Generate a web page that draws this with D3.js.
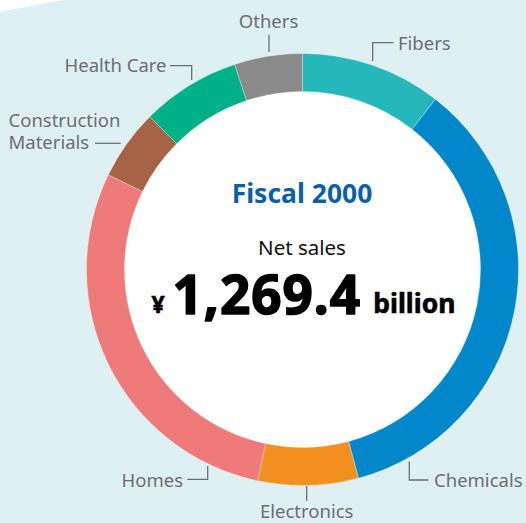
<!DOCTYPE html>
<html>
<head>
<meta charset="utf-8">
<script src="https://cdn.jsdelivr.net/npm/d3@7"></script>
<style>
  html, body { margin: 0; padding: 0; background: #ffffff; }
  svg { display: block; }
  text { font-family: "Noto Sans", "Open Sans", sans-serif; }
</style>
</head>
<body>
<svg id="chart" width="526" height="523"></svg>
<script>
// Net sales by segment, fiscal 2000 (billion yen), clockwise from 12 o'clock
const segments = ["Fibers", "Chemicals", "Electronics", "Homes", "Construction Materials", "Health Care", "Others"];
const sales = [134.0, 447.8, 95.2, 366.7, 67.0, 94.1, 64.6];
const colors = ["#26b7bb", "#0288ca", "#f29021", "#ef7a7a", "#a66345", "#00b087", "#8a8a8a"];

const title = "Fiscal 2000";
const subtitle = "Net sales";
const currency = "¥";
const totalLabel = "1,269.4";
const unit = "billion";

const W = 526, H = 523;
const cx = 302.5, cy = 269.5;
const outerR = 216, innerR = 178;

const svg = d3.select("#chart");

// panel background with the folded white corner
svg.append("rect").attr("width", W).attr("height", H).attr("fill", "#dff0f3");
svg.append("path").attr("d", "M0,0 L63,0 L0,11.7 Z").attr("fill", "#ffffff");

const g = svg.append("g").attr("transform", `translate(${cx},${cy})`);

const pie = d3.pie().sort(null).value(d => d.value);
const arcs = pie(segments.map((name, i) => ({ name, value: sales[i], color: colors[i] })));
const arc = d3.arc().innerRadius(innerR).outerRadius(outerR);

g.append("circle").attr("r", innerR).attr("fill", "#ffffff");

g.selectAll("path.seg")
  .data(arcs)
  .join("path")
  .attr("class", "seg")
  .attr("d", arc)
  .attr("fill", d => d.data.color)
  .attr("stroke", "#ffffff")
  .attr("stroke-opacity", 0.5)
  .attr("stroke-width", 0.6);

// callout labels with leader lines (positions in page coordinates)
const gray = "#6d6e71";
const labelLayer = svg.append("g");
const callouts = [
  { lines: ["Fibers"], x: 398, y: 50, anchor: "start", leader: [[372.7, 61], [372.7, 42.7], [393.5, 42.7]] },
  { lines: ["Chemicals"], x: 434, y: 486.5, anchor: "start", leader: [[409.3, 461.5], [409.3, 480], [428.5, 480]] },
  { lines: ["Electronics"], x: 306.7, y: 518.3, anchor: "middle", leader: [[306.7, 486], [306.7, 500.7]] },
  { lines: ["Homes"], x: 183, y: 486.5, anchor: "end", leader: [[187.3, 479.3], [207.7, 479.3], [207.7, 466]] },
  { lines: ["Construction", "Materials"], x: 8.5, y: 126.7, anchor: "start", leader: [[95, 143.3], [120.7, 143.3]] },
  { lines: ["Health Care"], x: 166.5, y: 71.7, anchor: "end", leader: [[170, 65.7], [191.7, 65.7], [191.7, 80]] },
  { lines: ["Others"], x: 268.5, y: 28, anchor: "middle", leader: [[269, 35], [269, 52]] }
];

callouts.forEach(c => {
  labelLayer.append("path")
    .attr("d", d3.line()(c.leader))
    .attr("fill", "none")
    .attr("stroke", gray)
    .attr("stroke-width", 1.3);
  const t = labelLayer.append("text")
    .attr("x", c.x).attr("y", c.y)
    .attr("text-anchor", c.anchor)
    .attr("fill", gray)
    .attr("font-size", 18.5);
  c.lines.forEach((line, i) => {
    t.append("tspan").attr("x", c.x).attr("dy", i === 0 ? 0 : 22.6).text(line);
  });
});

// centre caption
const center = svg.append("g");
center.append("text")
  .attr("x", 302).attr("y", 203.3)
  .attr("text-anchor", "middle")
  .attr("fill", "#0a5fab")
  .attr("font-weight", 700)
  .attr("font-size", 26.5)
  .text(title);

center.append("text")
  .attr("x", 302).attr("y", 255)
  .attr("text-anchor", "middle")
  .attr("fill", "#111111")
  .attr("font-size", 20.5)
  .text(subtitle);

center.append("text")
  .attr("x", 151.5).attr("y", 313)
  .attr("fill", "#000000").attr("font-weight", 700)
  .attr("font-size", 23)
  .attr("stroke", "#000000").attr("stroke-width", 0.6)
  .text(currency);

// headline total, stroked slightly for a heavier weight
center.append("text")
  .attr("x", 172.5).attr("y", 314)
  .attr("fill", "#000000").attr("font-weight", 700)
  .attr("font-size", 53)
  .attr("letter-spacing", 1)
  .attr("stroke", "#000000").attr("stroke-width", 1.6)
  .attr("stroke-linejoin", "round")
  .text(totalLabel);

center.append("text")
  .attr("x", 373.3).attr("y", 313.3)
  .attr("fill", "#000000").attr("font-weight", 700)
  .attr("font-size", 26.5)
  .attr("stroke", "#000000").attr("stroke-width", 0.6)
  .text(unit);
</script>
</body>
</html>
